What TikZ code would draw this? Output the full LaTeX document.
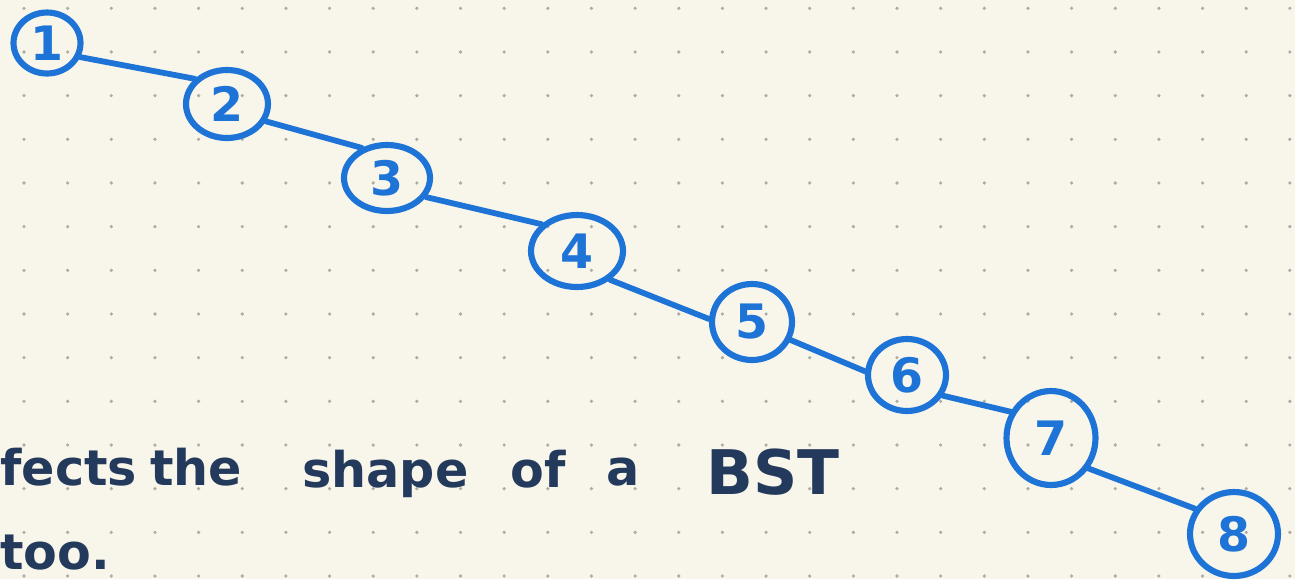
\documentclass[tikz,border=0pt]{standalone}
\usepackage{fontspec}
\setmainfont{DejaVu Sans}
\usetikzlibrary{shapes.geometric}

\definecolor{paper}{RGB}{248,246,235}
\definecolor{dotgray}{RGB}{175,172,163}
\definecolor{penblue}{RGB}{30,116,214}
\definecolor{inknavy}{RGB}{35,58,92}

\begin{document}
\begin{tikzpicture}
%Degenerate BST drawn as a chain
	[
	 	 %Styles
       x=0.02cm, y=-0.02cm,
       bst_node/.style={ellipse,draw=penblue,line width=3.5pt,inner sep=0pt,
                        text=penblue,font=\fontsize{27}{27}\selectfont\bfseries},
       bst_edge/.style={draw=penblue,line width=3.3pt,line cap=round},
       note_word/.style={anchor=base west,inner sep=0pt,text=inknavy,
                        font=\fontsize{28}{28}\selectfont\bfseries}
    ]

    %Paper and dot grid
    \useasboundingbox (0,0) rectangle (1295,579);
    \clip (0,0) rectangle (1295,579);
    \fill[paper] (0,0) rectangle (1295,579);
    \foreach \i in {0,...,29}
      \foreach \j in {0,...,13}
        \fill[dotgray] (24+43.65*\i,8.3+43.67*\j) circle (1.8);

    %Node placement
    \node (key1) [bst_node,minimum width=1.34cm,minimum height=1.22cm] at (47,43)   {1};
    \node (key2) [bst_node,minimum width=1.64cm,minimum height=1.36cm] at (227,104) {2};
    \node (key3) [bst_node,minimum width=1.72cm,minimum height=1.32cm] at (387,178) {3};
    \node (key4) [bst_node,minimum width=1.84cm,minimum height=1.44cm] at (577,251) {4};
    \node (key5) [bst_node,minimum width=1.60cm,minimum height=1.52cm] at (752,322) {5};
    \node (key6) [bst_node,minimum width=1.56cm,minimum height=1.44cm] at (907,375) {6};
    \node (key7) [bst_node,minimum width=1.78cm,minimum height=1.88cm] at (1051,438) {7};
    \node (key8) [bst_node,minimum width=1.76cm,minimum height=1.68cm] at (1234,534) {8};

    %Edges
    \path[bst_edge]
       (key1.-23) edge (key2.142)
       (key2.-24) edge (key3.130)
       (key3.-26) edge (key4.143)
       (key4.-41) edge (key5.176)
       (key5.-25) edge (key6.175)
       (key6.-30) edge (key7.147)
       (key7.-39) edge (key8.147);

    %Note text
    \node (word_fects) [note_word] at (0,485)   {fects};
    \node (word_the)   [note_word] at (150,485) {the};
    \node (word_shape) [note_word] at (302,487) {shape};
    \node (word_of)    [note_word] at (510,487) {of};
    \node (word_a)     [note_word] at (606,485) {a};
    \node (word_bst)   [note_word,font=\fontsize{35}{35}\selectfont\bfseries] at (706,494) {BST};
    \node (word_too)   [note_word] at (0,569)   {too.};
\end{tikzpicture}
\end{document}
